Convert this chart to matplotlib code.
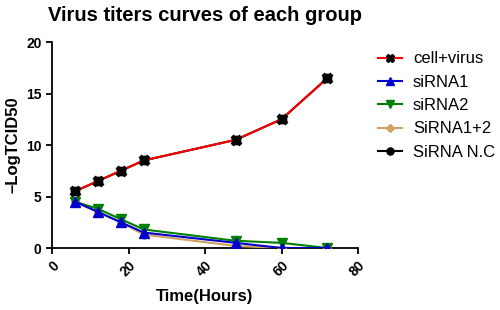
import matplotlib
matplotlib.use("Agg")
import matplotlib.pyplot as plt

hours = [6, 12, 18, 24, 48, 60, 72]
cell_virus = [5.5, 6.5, 7.5, 8.5, 10.5, 12.5, 16.5]
sirna1 = [4.5, 3.5, 2.5, 1.5, 0.5, 0.0, 0.0]
sirna2 = [4.5, 3.8, 2.8, 1.8, 0.7, 0.5, 0.0]
sirna12 = [4.5, 3.5, 2.5, 1.3, 0.2, 0.0, 0.0]
sirna_nc = [5.5, 6.5, 7.5, 8.5, 10.5, 12.5, 16.5]

plt.rcParams["font.family"] = ["Liberation Sans", "DejaVu Sans"]

fig = plt.figure(figsize=(5, 3.1), dpi=100)
ax = fig.add_axes([0.104, 0.2, 0.612, 0.6645])

# N.C sits under cell+virus (same values)
l5, = ax.plot(hours, sirna_nc, color="black", marker="o", markersize=6, lw=1.5,
              label="SiRNA N.C", zorder=2)
l4, = ax.plot(hours, sirna12, color="#D2A060", marker="D", markersize=4.5, lw=1.5,
              label="SiRNA1+2", zorder=3)
l3, = ax.plot(hours, sirna2, color="#008000", marker="v", markersize=6.5, lw=1.5,
              label="siRNA2", zorder=4)
l2, = ax.plot(hours, sirna1, color="#0000CC", marker="^", markersize=6.5, lw=1.5,
              label="siRNA1", zorder=5)
l1, = ax.plot(hours, cell_virus, color="red", marker="X", markersize=7.5, lw=1.5,
              mfc="black", mec="black", label="cell+virus", zorder=6)

ax.set_xlim(0, 80)
ax.set_ylim(0, 20)
ax.set_xticks([0, 20, 40, 60, 80])
ax.set_yticks([0, 5, 10, 15, 20])
ax.spines["top"].set_visible(False)
ax.spines["right"].set_visible(False)
for s in ["left", "bottom"]:
    ax.spines[s].set_linewidth(1.3)
ax.tick_params(direction="out", width=1.3, length=4, labelsize=10)
for lab in ax.get_xticklabels() + ax.get_yticklabels():
    lab.set_fontweight("bold")
for lab in ax.get_xticklabels():
    lab.set_rotation(45)
    lab.set_ha("right")
    lab.set_rotation_mode("anchor")

ax.set_xlabel("Time(Hours)", fontsize=12, fontweight="bold", labelpad=7)
ax.set_ylabel("\u2013LogTCID50", fontsize=12, fontweight="bold", labelpad=4)
ax.set_title("Virus titers curves of each group", fontsize=14.5, fontweight="bold", pad=15)

fig.legend([l1, l2, l3, l4, l5], ["cell+virus", "siRNA1", "siRNA2", "SiRNA1+2", "SiRNA N.C"],
           loc="upper left", bbox_to_anchor=(0.756, 0.834), frameon=False, fontsize=12,
           handlelength=1.45, handletextpad=0.65, labelspacing=0.5, borderaxespad=0,
           borderpad=0, markerscale=0.85)

fig.savefig("out.png", dpi=100)
